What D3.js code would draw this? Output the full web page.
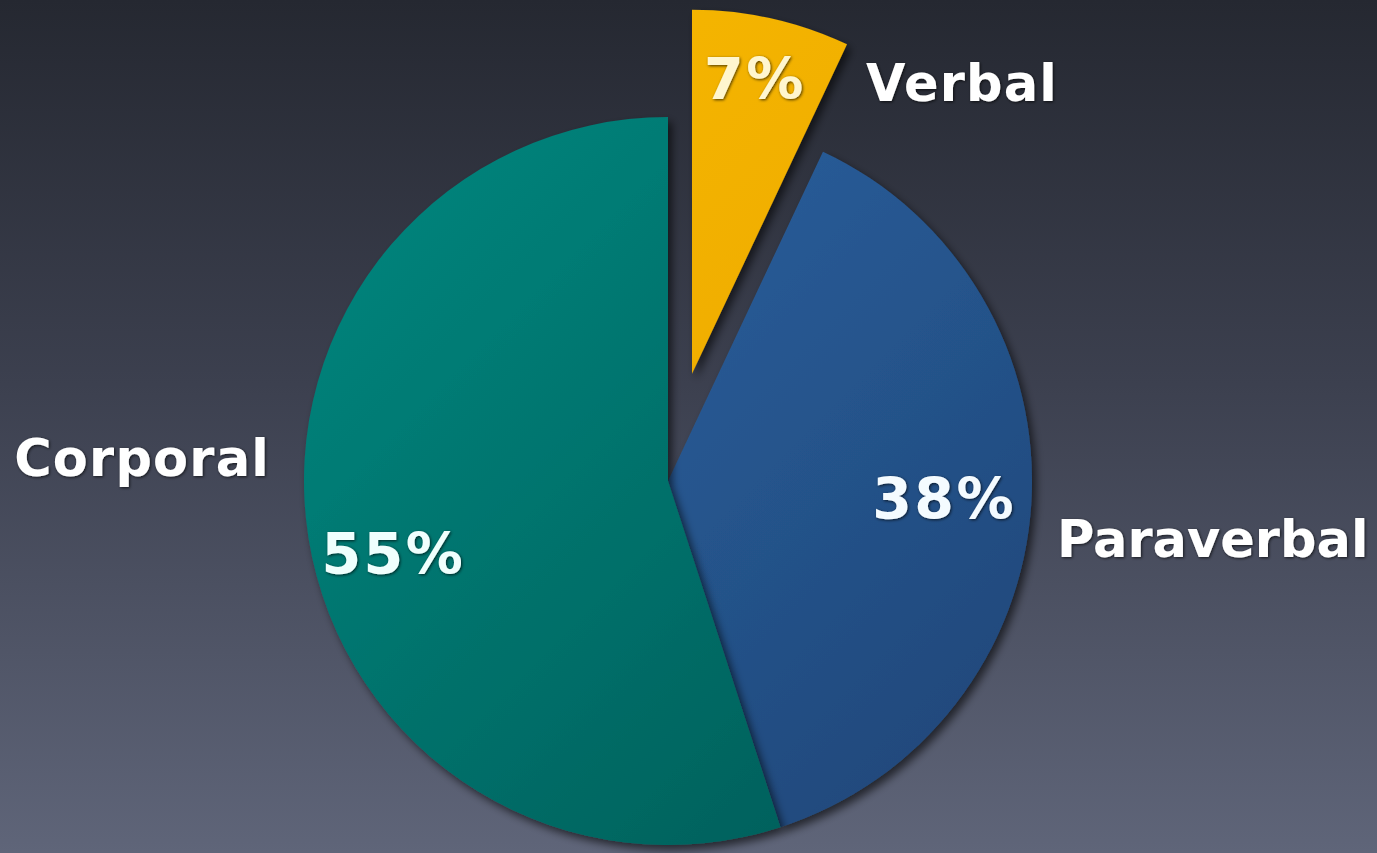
<!DOCTYPE html>
<html><head><meta charset="utf-8">
<script src="https://cdn.jsdelivr.net/npm/d3@7"></script>
<style>html,body{margin:0;padding:0;overflow:hidden;background:#3a3e4c}</style>
</head><body>
<svg id="c" width="1377" height="853"></svg>
<script>
// ---- data ----
const categories = ["Verbal", "Paraverbal", "Corporal"];
const values = [7, 38, 55];
const percentLabels = ["7%", "38%", "55%"];
const exploded = [true, false, false];

// ---- styles ----
const lightColors = ["#f8ba02", "#2e67a8", "#008880"];
const darkColors  = ["#e9a300", "#1e4576", "#005955"];

const W = 1377, H = 853;
const cx = 668, cy = 481, R = 364, explodeDist = 110;

const svg = d3.select("#c");
const defs = svg.append("defs");

const bg = defs.append("linearGradient").attr("id", "bg")
  .attr("x1", 0).attr("y1", 0).attr("x2", 0).attr("y2", 1);
bg.append("stop").attr("offset", "0%").attr("stop-color", "#252831");
bg.append("stop").attr("offset", "45%").attr("stop-color", "#3c404f");
bg.append("stop").attr("offset", "100%").attr("stop-color", "#5f6579");
svg.append("rect").attr("width", W).attr("height", H).attr("fill", "url(#bg)");

categories.forEach((c, i) => {
  const g = defs.append("linearGradient").attr("id", "g" + i)
    .attr("gradientUnits", "userSpaceOnUse")
    .attr("x1", -R).attr("y1", -R).attr("x2", R).attr("y2", R);
  g.append("stop").attr("offset", "0%").attr("stop-color", lightColors[i]);
  g.append("stop").attr("offset", "100%").attr("stop-color", darkColors[i]);
});

const sh = defs.append("filter").attr("id", "shadow")
  .attr("x", "-20%").attr("y", "-20%").attr("width", "140%").attr("height", "140%");
sh.append("feDropShadow").attr("dx", 4).attr("dy", 5).attr("stdDeviation", 4.5)
  .attr("flood-color", "#000").attr("flood-opacity", 0.6);

const ts = defs.append("filter").attr("id", "tshadow")
  .attr("x", "-10%").attr("y", "-20%").attr("width", "120%").attr("height", "140%");
ts.append("feDropShadow").attr("dx", 1).attr("dy", 1).attr("stdDeviation", 1.6)
  .attr("flood-color", "#000").attr("flood-opacity", 0.7);

const pie = d3.pie().sort(null).value(d => d)(values);
const arc = d3.arc().innerRadius(0).outerRadius(R);

const offset = (d, i) => {
  if (!exploded[i]) return [0, 0];
  const a = (d.startAngle + d.endAngle) / 2;
  return [Math.sin(a) * explodeDist, -Math.cos(a) * explodeDist];
};

const gPie = svg.append("g").attr("transform", `translate(${cx},${cy})`);
gPie.selectAll("path").data(pie).join("path")
  .attr("d", arc)
  .attr("transform", (d, i) => { const o = offset(d, i); return `translate(${o[0]},${o[1]})`; })
  .attr("fill", (d, i) => `url(#g${i})`)
  .attr("filter", "url(#shadow)");

// percent labels
const pctRadius = [0.83, 0.76, 0.78];
const pctAngleShift = [-0.01, 0.0, -0.10];
const pctColors = ["#fff6cf", "#f4fbff", "#effffd"];
gPie.selectAll("text.pct").data(pie).join("text")
  .attr("class", "pct")
  .attr("transform", (d, i) => {
    const o = offset(d, i);
    const a = (d.startAngle + d.endAngle) / 2 + pctAngleShift[i];
    const r = R * pctRadius[i];
    return `translate(${o[0] + Math.sin(a) * r},${o[1] - Math.cos(a) * r})`;
  })
  .attr("text-anchor", "middle")
  .attr("dy", "0.36em")
  .attr("font-family", "DejaVu Sans, Verdana, sans-serif")
  .attr("font-weight", "bold")
  .attr("font-size", 57)
  .attr("letter-spacing", 2.5)
  .attr("fill", (d, i) => pctColors[i])
  .attr("filter", "url(#tshadow)")
  .text((d, i) => percentLabels[i]);

// category labels (outside)
const nameAnchor = ["start", "start", "end"];
const namePos = [[cx + 198, cy - 380], [cx + 389, cy + 76], [cx - 398, cy - 5]];
const nameSpacing = [1.2, 0, 1.2];
svg.selectAll("text.name").data(categories).join("text")
  .attr("class", "name")
  .attr("x", (d, i) => namePos[i][0])
  .attr("y", (d, i) => namePos[i][1])
  .attr("text-anchor", (d, i) => nameAnchor[i])
  .attr("font-family", "DejaVu Sans, Verdana, sans-serif")
  .attr("font-weight", "bold")
  .attr("font-size", 51)
  .attr("letter-spacing", (d, i) => nameSpacing[i])
  .attr("fill", "#ffffff")
  .attr("filter", "url(#tshadow)")
  .text(d => d);
</script>
</body></html>
